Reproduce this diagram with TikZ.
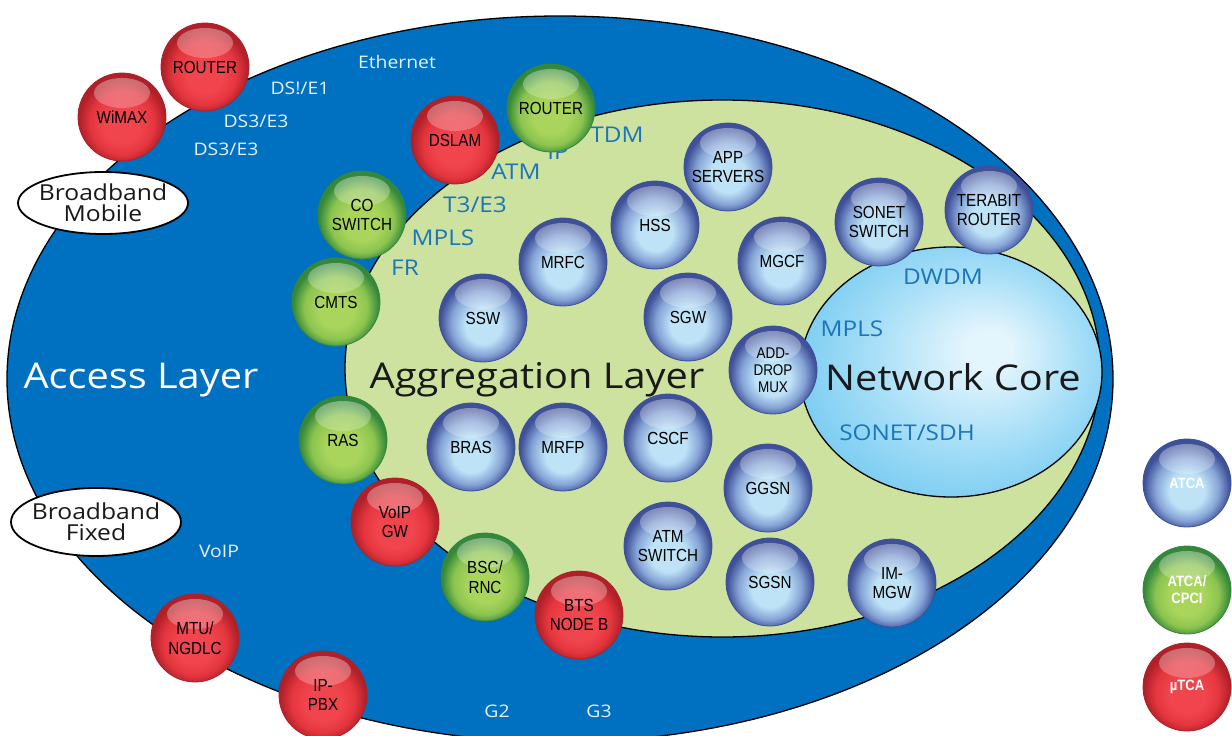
\documentclass[tikz,border=0pt]{standalone}
\usepackage{fontspec}
\setmainfont{Liberation Sans}
\newfontfamily\hfont[FakeStretch=1.12]{Open Sans}
\newfontfamily\ballfont[FakeStretch=0.87]{Liberation Sans}
\usetikzlibrary{fadings,shapes.geometric}

\definecolor{bgblue}{HTML}{0070C0}
\definecolor{agggreen}{HTML}{CDE29F}
\definecolor{protoblue}{HTML}{1B75BB}
\definecolor{coreL}{HTML}{E3F5FD}
\definecolor{coreM}{HTML}{A8DFF7}
\definecolor{coreD}{HTML}{7CCDF2}
\definecolor{bL}{HTML}{BEE3F7}
\definecolor{bM}{HTML}{86A4D6}
\definecolor{bD}{HTML}{3E5098}
\definecolor{gL}{HTML}{A9D55C}
\definecolor{gM}{HTML}{8CC44F}
\definecolor{gD}{HTML}{35883B}
\definecolor{rL}{HTML}{F1454E}
\definecolor{rM}{HTML}{E5363F}
\definecolor{rD}{HTML}{AF2028}

\pgfdeclareradialshading{ballB}{\pgfpoint{0bp}{-6bp}}{color(0bp)=(bL); color(10bp)=(bL); color(18bp)=(bM); color(24.5bp)=(bD); color(40bp)=(bD)}
\pgfdeclareradialshading{ballG}{\pgfpoint{0bp}{-6bp}}{color(0bp)=(gL); color(10bp)=(gL); color(18bp)=(gM); color(24.5bp)=(gD); color(40bp)=(gD)}
\pgfdeclareradialshading{ballR}{\pgfpoint{0bp}{-6bp}}{color(0bp)=(rL); color(10bp)=(rL); color(18bp)=(rM); color(24.5bp)=(rD); color(40bp)=(rD)}
\pgfdeclareradialshading{coreshade}{\pgfpoint{7bp}{5bp}}{color(0bp)=(coreL); color(4bp)=(coreL); color(17bp)=(coreM); color(28bp)=(coreD); color(40bp)=(coreD)}

\tikzset{
  ball/.style={circle, minimum size=88pt, inner sep=0pt, shade, align=center,
    font=\ballfont\fontsize{17.5}{19.5}\selectfont, text=black, line width=0.8pt,
    path picture={\fill[white, path fading=south, fill opacity=0.38]
      ([yshift=24pt]path picture bounding box.center) ellipse [x radius=28pt, y radius=15pt];}},
  bball/.style={ball, shading=ballB, draw=bD},
  gball/.style={ball, shading=ballG, draw=gD},
  rball/.style={ball, shading=ballR, draw=rD},
  legtext/.style={text=white, font=\ballfont\bfseries\fontsize{15}{17}\selectfont},
  wlab/.style={text=white!90!bgblue, font=\hfont\fontsize{17.3}{19}\selectfont, inner sep=0pt},
  plab/.style={text=protoblue, font=\hfont\fontsize{21.7}{23}\selectfont, inner sep=0pt},
  layer/.style={font=\hfont\fontsize{35.5}{38}\selectfont, inner sep=0pt, anchor=base},
  bbox/.style={ellipse, draw=black, line width=1.8pt, fill=white, minimum width=170pt,
    minimum height=62pt, inner xsep=-5pt, inner ysep=0pt, align=center,
    font=\hfont\fontsize{22}{21}\selectfont, text=black!90}
}

\begin{document}
\begin{tikzpicture}[x=1pt,y=-1pt]
\useasboundingbox (0,0) rectangle (1232,736);
\clip (0,0) rectangle (1232,736);
\fill[white] (0,0) rectangle (1232,736);

% layers
\filldraw[fill=bgblue, draw=black, line width=1.3pt] (560,379) ellipse [x radius=553pt, y radius=363pt];
\filldraw[fill=agggreen, draw=black, line width=1.3pt] (722.5,368.5) ellipse [x radius=377.5pt, y radius=268.5pt];
\shade[shading=coreshade] (951,372) ellipse [x radius=151pt, y radius=125pt];
\draw[black, line width=1.3pt] (951,372) ellipse [x radius=151pt, y radius=125pt];

% layer labels
\node[layer, text=white] (access) at (141,388) {Access Layer};
\node[layer, text=black!90] (aggr) at (537,388) {Aggregation Layer};
\node[layer, text=black!90] (core) at (953,390) {Network Core};

% white labels
\node[wlab] (eth) at (397,62) {Ethernet};
\node[wlab] (ds1) at (300,88) {DS!/E1};
\node[wlab] (ds3a) at (256,121) {DS3/E3};
\node[wlab] (ds3b) at (226,149) {DS3/E3};
\node[wlab] (voiplab) at (219,551) {VoIP};
\node[wlab] (g2) at (497,711) {G2};
\node[wlab] (g3) at (599,711) {G3};

% protocol labels
\node[plab] (tdm) at (617,135) {TDM};
\node[plab] (ip) at (558,152) {IP};
\node[plab] (atml) at (516,172) {ATM};
\node[plab] (t3) at (475,205) {T3/E3};
\node[plab] (mpls1) at (443,238) {MPLS};
\node[plab] (fr) at (405,268) {FR};
\node[plab] (dwdm) at (943,277) {DWDM};
\node[plab] (mpls2) at (852,329) {MPLS};
\node[plab] (sonetsdh) at (907,433) {SONET/SDH};

% broadband ellipses
\node[bbox] (bbm) at (103,203) {Broadband\\Mobile};
\node[bbox, minimum height=68pt] (bbf) at (96,522) {Broadband\\Fixed};

% red balls
\node[rball] (wimax) at (122,117) {WiMAX};
\node[rball] (router1) at (205,67) {ROUTER};
\node[rball] (dslam) at (455,140) {DSLAM};
\node[rball] (voipgw) at (395,522) {VoIP\\GW};
\node[rball] (bts) at (579,615) {BTS\\NODE B};
\node[rball] (mtu) at (195,638) {MTU/\\NGDLC};
\node[rball] (ippbx) at (323,695) {IP-\\PBX};

% green balls
\node[gball] (router2) at (551,108) {ROUTER};
\node[gball] (coswitch) at (362,215) {CO\\SWITCH};
\node[gball] (cmts) at (336,302) {CMTS};
\node[gball] (ras) at (343,440) {RAS};
\node[gball] (bsc) at (485,577) {BSC/\\RNC};

% blue balls
\node[bball] (app) at (728,167) {APP\\SERVERS};
\node[bball] (hss) at (655,225) {HSS};
\node[bball] (mgcf) at (782,261) {MGCF};
\node[bball] (sonet) at (879,222) {SONET\\SWITCH};
\node[bball] (terabit) at (989,210) {TERABIT\\ROUTER};
\node[bball] (mrfc) at (563,262) {MRFC};
\node[bball] (ssw) at (483,318) {SSW};
\node[bball] (sgw) at (688,317) {SGW};
\node[bball, font=\ballfont\fontsize{15.5}{17}\selectfont] (adm) at (773,370) {ADD-\\DROP\\MUX};
\node[bball] (bras) at (471,447) {BRAS};
\node[bball] (mrfp) at (563,447) {MRFP};
\node[bball] (cscf) at (668,438) {CSCF};
\node[bball] (ggsn) at (768,488) {GGSN};
\node[bball] (atmsw) at (668,546) {ATM\\SWITCH};
\node[bball] (sgsn) at (770,582) {SGSN};
\node[bball] (immgw) at (892,583) {IM-\\MGW};

% legend
\node[bball, legtext] (atca) at (1187,483) {ATCA};
\node[gball, legtext] (atcacpci) at (1187,590) {ATCA/\\CPCI};
\node[rball, legtext] (utca) at (1187,687) {µTCA};
\end{tikzpicture}
\end{document}
